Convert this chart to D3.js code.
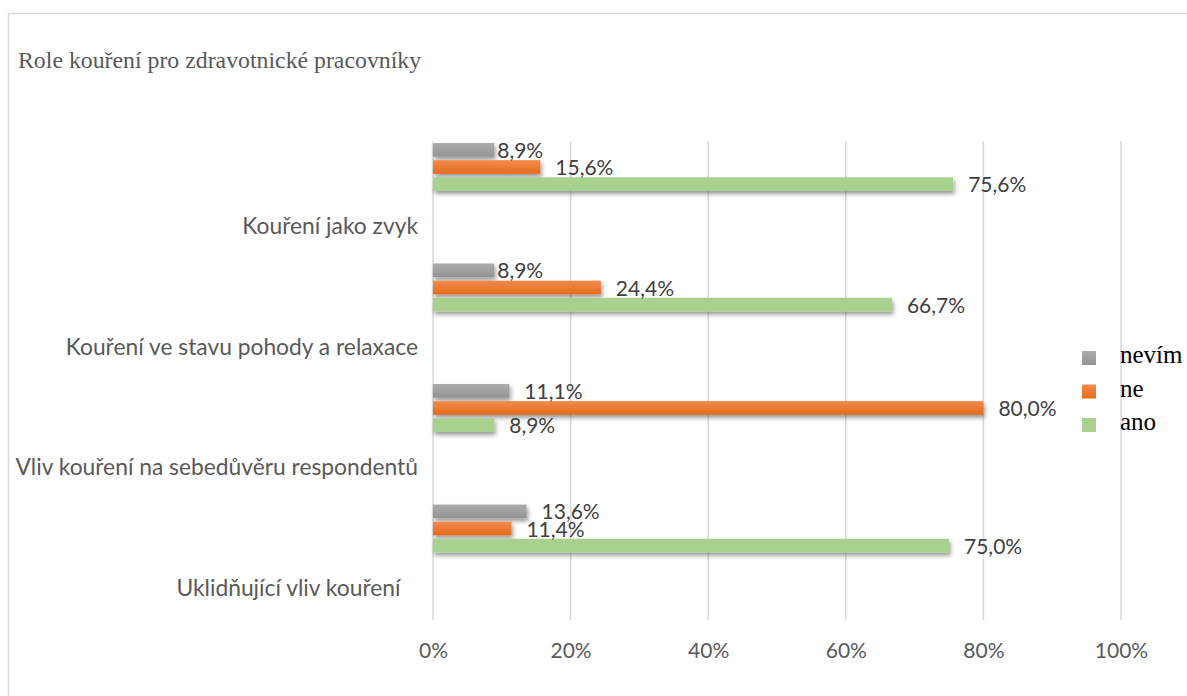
<!DOCTYPE html>
<html>
<head>
<meta charset="utf-8">
<script src="https://cdn.jsdelivr.net/npm/d3@7"></script>
<style>
  body { margin: 0; background: #fff; }
  svg { display: block; }
  text { white-space: pre; }
</style>
</head>
<body>
<div class="chart"></div>
<script>
// data (top category first)
const categories = [
    "Kouření jako zvyk",
    "Kouření ve stavu pohody a relaxace",
    "Vliv kouření na sebedůvěru respondentů",
    "Uklidňující vliv kouření   "
];
const seriesNames = ["nevím", "ne", "ano"];
const nevim = [8.9, 8.9, 11.1, 13.6];
const ne = [15.6, 24.4, 80.0, 11.4];
const ano = [75.6, 66.7, 8.9, 75.0];
const xTicks = [0, 20, 40, 60, 80, 100];

const title = "Role kouření pro zdravotnické pracovníky";

// svg size = the window
const dims = { width: 1187, height: 696 };
const plot = { left: 433, right: 1121, top: 141, bottom: 623 };

const sans = "Lato, 'Noto Sans', sans-serif";
const serif = "'Liberation Serif', 'Times New Roman', serif";

const svg = d3.select("div.chart")
    .append("svg")
    .attr("width", dims.width)
    .attr("height", dims.height);

const defs = svg.append("defs");

// soft shadow under the bars, like the excel one
defs.append("filter")
    .attr("id", "shadow")
    .attr("x", "-5%").attr("y", "-40%")
    .attr("width", "115%").attr("height", "200%")
    .append("feDropShadow")
    .attr("dx", 1.5).attr("dy", 3)
    .attr("stdDeviation", 2)
    .attr("flood-color", "#000")
    .attr("flood-opacity", 0.4);

// fills per series (gradients for gray + orange)
const fills = {
    "nevím": ["#acacac", "#939393"],
    "ne": ["#f58b4e", "#e36b1c"],
    "ano": ["#a9d18e", "#a9d18e"]
};
seriesNames.forEach((s, i) => {
    const g = defs.append("linearGradient")
        .attr("id", "grad" + i)
        .attr("x1", 0).attr("y1", 0).attr("x2", 0).attr("y2", 1);
    g.append("stop").attr("offset", "0%").attr("stop-color", fills[s][0]);
    g.append("stop").attr("offset", "100%").attr("stop-color", fills[s][1]);
});

svg.append("rect")
    .attr("width", dims.width).attr("height", dims.height)
    .attr("fill", "#fff");

// chart border (runs off the right and bottom edge)
svg.append("rect")
    .attr("x", 8.5).attr("y", 13.5)
    .attr("width", 1300).attr("height", 800)
    .attr("fill", "none")
    .attr("stroke", "#d9d9d9")
    .attr("stroke-width", 1.5);

svg.append("text")
    .attr("x", 18).attr("y", 68)
    .attr("font-family", serif)
    .attr("font-size", 23.8)
    .attr("fill", "#595959")
    .text(title);

// scales
const x = d3.scaleLinear().domain([0, 100]).range([plot.left, plot.right]);
const y = d3.scaleBand().domain(categories).range([plot.top, plot.bottom]).padding(0);
const ySub = d3.scaleBand().domain(seriesNames).range([2, 50]).paddingInner(0.2).paddingOuter(0);

// gridlines
svg.append("g")
    .selectAll("line")
    .data(xTicks)
    .join("line")
    .attr("x1", d => x(d)).attr("x2", d => x(d))
    .attr("y1", plot.top).attr("y2", plot.bottom - 3)
    .attr("stroke", "#d9d9d9")
    .attr("stroke-width", 1.5);

// x axis labels
const xAxis = d3.axisBottom(x).tickValues(xTicks).tickFormat(d => d + "%").tickSize(0);
svg.append("g")
    .attr("transform", `translate(0, 640)`)
    .call(xAxis)
    .call(g => g.select(".domain").remove())
    .selectAll("text")
    .attr("font-family", sans)
    .attr("font-size", 21)
    .attr("fill", "#595959")
    .attr("dy", "0.71em");

// category labels
svg.append("g")
    .selectAll("text")
    .data(categories)
    .join("text")
    .attr("x", 418)
    .attr("y", d => y(d) + 93)
    .attr("text-anchor", "end")
    .attr("font-family", sans)
    .attr("font-size", 22.8)
    .attr("fill", "#595959")
    .text(d => d);

// flatten into rows
const values = { "nevím": nevim, "ne": ne, "ano": ano };
const rows = [];
categories.forEach((c, ci) => {
    seriesNames.forEach((s, si) => {
        rows.push({ cat: c, ci, series: s, si, value: values[s][ci] });
    });
});

// a couple of labels were dragged closer to the bar in the original
const labelNudge = { "nevím|0": -12, "nevím|1": -12 };

const bars = svg.append("g");
bars.selectAll("rect")
    .data(rows)
    .join("rect")
    .attr("x", x(0))
    .attr("y", d => y(d.cat) + ySub(d.series))
    .attr("width", d => x(d.value) - x(0))
    .attr("height", ySub.bandwidth())
    .attr("fill", d => `url(#grad${d.si})`)
    .attr("filter", "url(#shadow)");

svg.append("g")
    .selectAll("text")
    .data(rows)
    .join("text")
    .attr("x", d => x(d.value) + 15 + (labelNudge[d.series + "|" + d.ci] || 0))
    .attr("y", d => y(d.cat) + ySub(d.series) + ySub.bandwidth() / 2 + 8)
    .attr("font-family", sans)
    .attr("font-size", 21)
    .attr("fill", "#404040")
    .text(d => d3.format(".1f")(d.value).replace(".", ",") + "%");

// legend
const legend = svg.append("g").attr("transform", "translate(1082, 351)");
const legItems = legend.selectAll("g")
    .data(seriesNames)
    .join("g")
    .attr("transform", (d, i) => `translate(0, ${i * 33.5})`);

legItems.append("rect")
    .attr("width", 14).attr("height", 14)
    .attr("fill", (d, i) => `url(#grad${i})`);

legItems.append("text")
    .attr("x", 38).attr("y", 12)
    .attr("font-family", serif)
    .attr("font-size", 25)
    .attr("fill", "#000")
    .text(d => d);
</script>
</body>
</html>
